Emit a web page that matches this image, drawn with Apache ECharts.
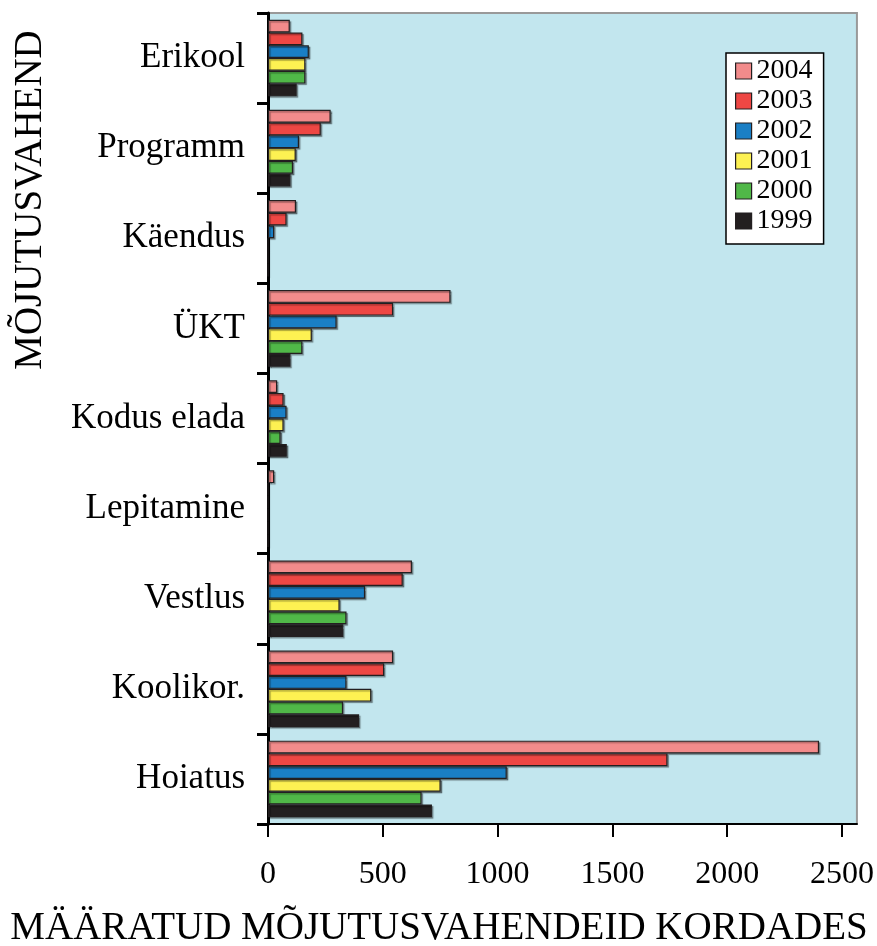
<!DOCTYPE html>
<html>
<head>
<meta charset="utf-8">
<script src="https://cdn.jsdelivr.net/npm/echarts@6/dist/echarts.min.js"></script>
<style>
  html, body { margin: 0; padding: 0; background: #fff; overflow: hidden; }
  #chart { width: 877px; height: 946px; }
</style>
</head>
<body>
<div id="chart"></div>
<script>
// kategooriad ülevalt alla
const categories = ['Erikool', 'Programm', 'Käendus', 'ÜKT', 'Kodus elada', 'Lepitamine', 'Vestlus', 'Koolikor.', 'Hoiatus'];
const years = ['2004', '2003', '2002', '2001', '2000', '1999'];

const v2004 = [95, 273, 122, 795, 40, 27, 627, 545, 2400];
const v2003 = [150, 230, 81, 545, 68, 0, 587, 506, 1740];
const v2002 = [178, 135, 27, 299, 81, 0, 423, 342, 1040];
const v2001 = [163, 121, 0, 191, 68, 0, 312, 450, 752];
const v2000 = [163, 109, 0, 150, 55, 0, 342, 327, 669];
const v1999 = [125, 98, 0, 98, 82, 0, 328, 397, 714];

const xTicks = [0, 500, 1000, 1500, 2000, 2500];

const colors = ['#f28b8b', '#ee4744', '#1a7fc5', '#fdf152', '#50b848', '#231f20'];
const values = [v2004, v2003, v2002, v2001, v2000, v1999];

const font = 'Liberation Serif';

let myChart = echarts.init(document.getElementById('chart'));

let series = years.map((y, i) => ({
  name: y,
  type: 'bar',
  data: values[i],
  barGap: '0%',
  barCategoryGap: '15%',
  itemStyle: {
    color: colors[i],
    borderColor: '#231f20',
    borderWidth: 1.2,
    shadowColor: 'rgba(0,0,0,0.35)',
    shadowOffsetX: 1.5,
    shadowOffsetY: 1.5,
    shadowBlur: 1
  }
}));

myChart.setOption({
  animation: false,
  color: colors,
  grid: {
    left: 268,
    right: 15,
    top: 13,
    bottom: 122,
    show: true,
    backgroundColor: '#c2e6ee',
    borderColor: '#999999',
    borderWidth: 2
  },
  legend: {
    data: years,
    orient: 'vertical',
    left: 726,
    top: 53,
    padding: [4, 11, 9, 9],
    backgroundColor: '#ffffff',
    borderColor: '#000000',
    borderWidth: 1.5,
    borderRadius: 0,
    itemWidth: 16,
    itemHeight: 16,
    itemGap: 2,
    icon: 'rect',
    itemStyle: { borderColor: '#231f20', borderWidth: 1.2 },
    textStyle: { fontFamily: font, fontSize: 28, lineHeight: 28, color: '#000' }
  },
  xAxis: {
    type: 'value',
    min: 0,
    max: 2565,
    splitLine: { show: false },
    axisLine: { show: true, lineStyle: { color: '#000', width: 2 } },
    axisTick: { show: true, length: 13, lineStyle: { color: '#000', width: 2 }, customValues: xTicks },
    axisLabel: {
      fontFamily: font,
      fontSize: 32,
      color: '#000',
      margin: 35,
      customValues: xTicks,
      formatter: function (v) {
        return String(v);
      }
    }
  },
  yAxis: {
    type: 'category',
    data: categories,
    inverse: true,
    axisLine: { show: true, lineStyle: { color: '#000', width: 3 } },
    axisTick: { show: true, length: 11, lineStyle: { color: '#000', width: 3 } },
    axisLabel: { fontFamily: font, fontSize: 35, color: '#000', margin: 23 }
  },
  graphic: [
    {
      type: 'text',
      x: 30.5,
      y: 200,
      rotation: Math.PI / 2,
      style: {
        text: 'MÕJUTUSVAHEND',
        fontFamily: font,
        fontSize: 39,
        fill: '#000',
        align: 'center',
        verticalAlign: 'middle'
      }
    },
    {
      type: 'text',
      x: 439,
      y: 929,
      style: {
        text: 'MÄÄRATUD MÕJUTUSVAHENDEID KORDADES',
        fontFamily: font,
        fontSize: 39,
        fill: '#000',
        align: 'center',
        verticalAlign: 'middle'
      }
    }
  ],
  series: series
});
</script>
</body>
</html>
